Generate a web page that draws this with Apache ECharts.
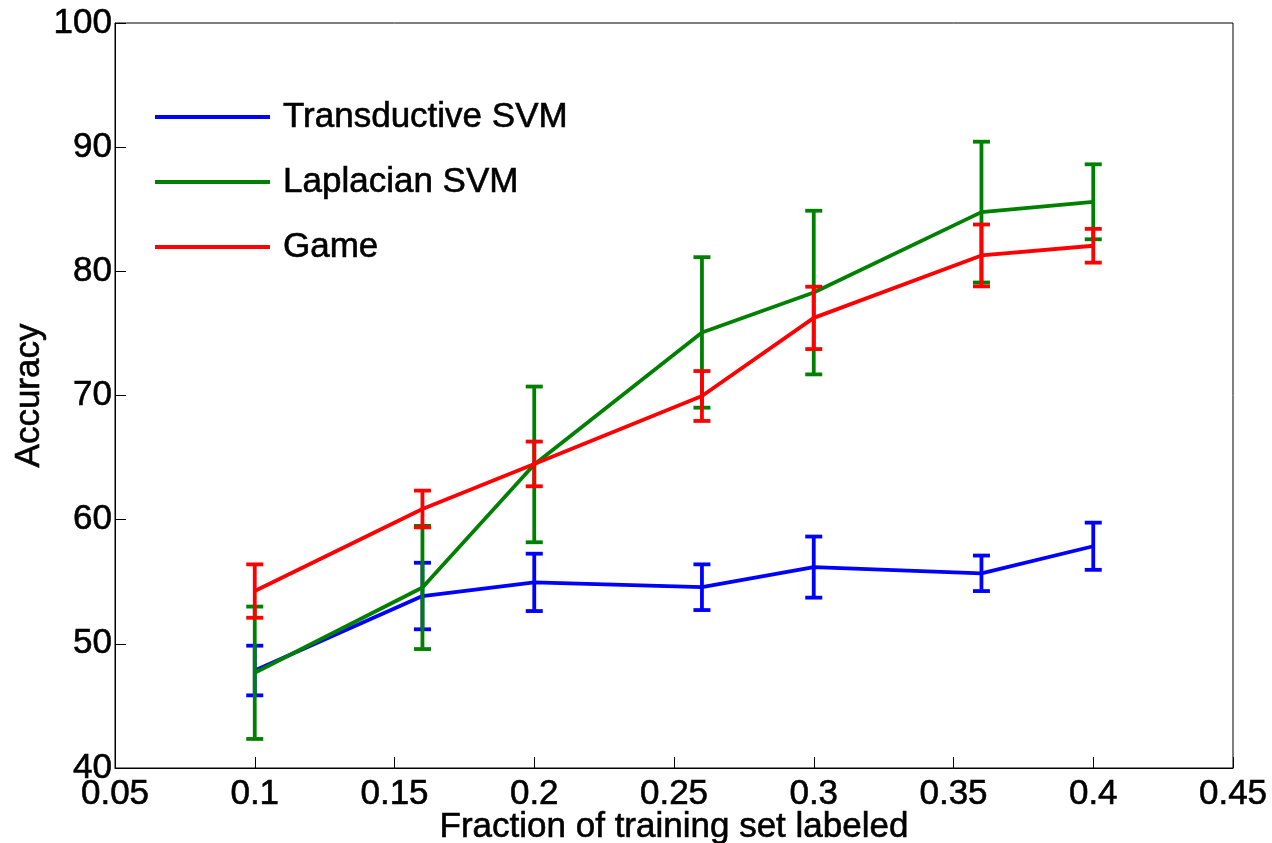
<!DOCTYPE html>
<html>
<head>
<meta charset="utf-8">
<script src="https://cdn.jsdelivr.net/npm/echarts@6/dist/echarts.min.js"></script>
<style>
html,body{margin:0;padding:0;background:#fff;}
#chart{width:1272px;height:843px;}
</style>
</head>
<body>
<div id="chart"></div>
<script>
var fractions = [0.1, 0.16, 0.2, 0.26, 0.3, 0.36, 0.4];
var tsvmMean = [47.85, 53.85, 54.95, 54.56, 56.18, 55.68, 57.86];
var tsvmErr  = [2.0, 2.68, 2.31, 1.84, 2.46, 1.43, 1.9];
var lapMean  = [47.67, 54.54, 64.45, 75.08, 78.29, 84.77, 85.6];
var lapErr   = [5.33, 4.96, 6.27, 6.06, 6.59, 5.67, 3.02];
var gameMean = [54.25, 60.86, 64.49, 69.96, 76.25, 81.28, 82.06];
var gameErr  = [2.15, 1.48, 1.8, 2.01, 2.51, 2.49, 1.36];
var seriesNames = ['Transductive SVM', 'Laplacian SVM', 'Game'];
var seriesColors = ['#0000ff', '#008000', '#ff0000'];
var xTicks = {min: 0.05, max: 0.45, interval: 0.05};
var yTicks = {min: 40, max: 100, interval: 10};

var FONT = '"Liberation Sans", Arial, Helvetica, sans-serif';
var FS = 35;
var heavy = {textBorderColor: '#000', textBorderWidth: 0.6};

function linePoints(mean) {
  return fractions.map(function (x, i) { return [x, mean[i]]; });
}
function errPoints(mean, err) {
  return fractions.map(function (x, i) { return [x, mean[i] - err[i], mean[i] + err[i]]; });
}
function errRender(color) {
  return function (params, api) {
    var x = api.value(0);
    var lo = api.coord([x, api.value(1)]);
    var hi = api.coord([x, api.value(2)]);
    var hw = 8.5;
    var style = {stroke: color, lineWidth: 3.8, fill: null};
    return {
      type: 'group',
      children: [
        {type: 'line', shape: {x1: lo[0], y1: lo[1], x2: hi[0], y2: hi[1]}, style: style},
        {type: 'line', shape: {x1: lo[0] - hw, y1: lo[1], x2: lo[0] + hw, y2: lo[1]}, style: style},
        {type: 'line', shape: {x1: hi[0] - hw, y1: hi[1], x2: hi[0] + hw, y2: hi[1]}, style: style}
      ]
    };
  };
}

var means = [tsvmMean, lapMean, gameMean];
var errs = [tsvmErr, lapErr, gameErr];
var series = [];
for (var i = 0; i < 3; i++) {
  series.push({
    name: seriesNames[i],
    type: 'line',
    data: linePoints(means[i]),
    symbol: 'none',
    lineStyle: {width: 3.8, color: seriesColors[i]},
    itemStyle: {color: seriesColors[i]},
    z: 2 + i * 2
  });
  series.push({
    name: seriesNames[i] + ' error',
    type: 'custom',
    data: errPoints(means[i], errs[i]),
    renderItem: errRender(seriesColors[i]),
    encode: {x: 0, y: [1, 2]},
    z: 3 + i * 2
  });
}

var chart = echarts.init(document.getElementById('chart'), null, {renderer: 'canvas'});
chart.setOption({
  animation: false,
  backgroundColor: '#fff',
  textStyle: {fontFamily: FONT},
  grid: {left: 115, right: 39, top: 23, bottom: 75, outerBoundsMode: 'none', containLabel: false,
    show: true, borderColor: '#000', borderWidth: 1, backgroundColor: 'transparent'},
  legend: {
    data: seriesNames,
    orient: 'vertical',
    left: 150,
    top: 92,
    icon: 'rect',
    itemWidth: 115,
    itemHeight: 4,
    itemGap: 25,
    textStyle: Object.assign({fontSize: FS, fontFamily: FONT, color: '#000', lineHeight: 40, padding: [0, 0, 0, 8]}, heavy),
    selectedMode: false
  },
  xAxis: {
    type: 'value',
    min: xTicks.min, max: xTicks.max, interval: xTicks.interval,
    name: 'Fraction of training set labeled',
    nameLocation: 'middle',
    nameGap: 42,
    nameMoveOverlap: false,
    nameTextStyle: Object.assign({fontSize: FS, fontFamily: FONT, color: '#000', verticalAlign: 'top', lineHeight: 35}, heavy),
    axisLine: {show: true, lineStyle: {color: '#000', width: 1}},
    axisTick: {show: true, inside: true, length: 11, lineStyle: {color: '#000', width: 1}},
    axisLabel: Object.assign({fontSize: FS, fontFamily: FONT, color: '#000', margin: 9, hideOverlap: false,
      formatter: function (v) { return String(Math.round(v * 100) / 100); }}, heavy),
    splitLine: {show: false}
  },
  yAxis: {
    type: 'value',
    min: yTicks.min, max: yTicks.max, interval: yTicks.interval,
    name: 'Accuracy',
    nameLocation: 'middle',
    nameGap: 68,
    nameMoveOverlap: false,
    nameRotate: 90,
    nameTextStyle: Object.assign({fontSize: FS, fontFamily: FONT, color: '#000'}, heavy),
    axisLine: {show: true, lineStyle: {color: '#000', width: 1}},
    axisTick: {show: true, inside: true, length: 11, lineStyle: {color: '#000', width: 1}},
    axisLabel: Object.assign({fontSize: FS, fontFamily: FONT, color: '#000', margin: 3, hideOverlap: false}, heavy),
    splitLine: {show: false}
  },
  series: series
});
</script>
</body>
</html>
